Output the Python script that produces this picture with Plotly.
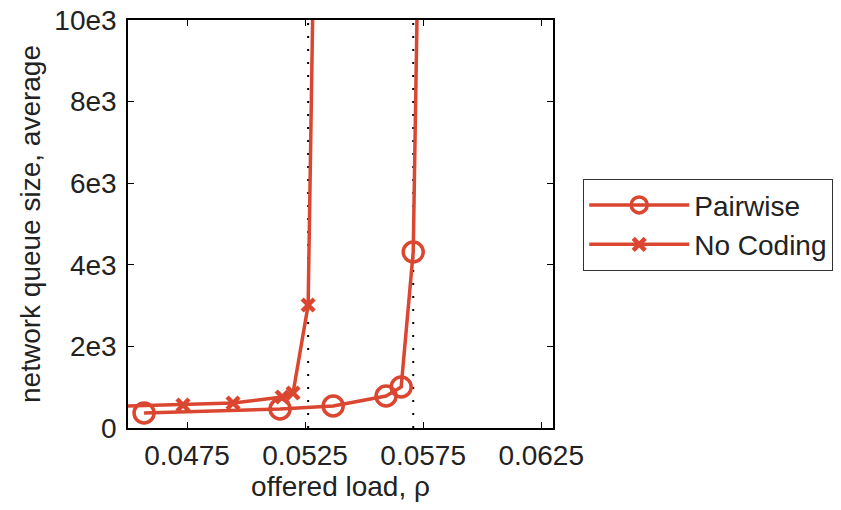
import plotly.graph_objects as go

# Data
pairwise_x = [0.04568, 0.05144, 0.05369, 0.05593, 0.05657, 0.05708, 0.05735]
pairwise_y = [368, 465, 540, 784, 1005, 4314, 14000]

nocoding_x = [0.0440, 0.04733, 0.04945, 0.05153, 0.05199, 0.05263, 0.05290]
nocoding_y = [520, 564, 613, 760, 858, 3015, 13000]

capacity_x = [0.05263, 0.05708]
y_range = [0, 10000]

x_ticks = [0.0475, 0.0525, 0.0575, 0.0625]
x_ticklabels = ["0.0475", "0.0525", "0.0575", "0.0625"]
y_ticks = [0, 2000, 4000, 6000, 8000, 10000]
y_ticklabels = ["0", "2e3", "4e3", "6e3", "8e3", "10e3"]

RED = "#DA4630"
FONT = "Liberation Sans, Arial, sans-serif"
TXT = "#222222"

fig = go.Figure()

for cx in capacity_x:
    fig.add_trace(go.Scatter(
        x=[cx, cx], y=y_range, mode="lines",
        line=dict(color="black", width=2, dash="2px,11px"),
        showlegend=False, hoverinfo="skip"))

fig.add_trace(go.Scatter(
    x=pairwise_x, y=pairwise_y, mode="lines+markers", name="Pairwise",
    line=dict(color=RED, width=3.5),
    marker=dict(symbol="circle-open", size=20, color=RED, line=dict(width=3.5, color=RED))))

fig.add_trace(go.Scatter(
    x=nocoding_x, y=nocoding_y, mode="lines+markers", name="No Coding",
    line=dict(color=RED, width=3.5),
    marker=dict(symbol="x-thin-open", size=12, color=RED, line=dict(width=4.5, color=RED))))

axis_common = dict(
    showline=True, linecolor="black", linewidth=1.5, mirror="ticks",
    ticks="inside", ticklen=6, tickcolor="black", tickwidth=1.2,
    showgrid=False, zeroline=False, automargin=False,
    tickfont=dict(family=FONT, size=28, color=TXT),
)

fig.update_xaxes(
    range=[0.045, 0.063], tickvals=x_ticks, ticktext=x_ticklabels,
    ticklabelstandoff=2,
    title=dict(text="offered load, ρ", font=dict(family=FONT, size=28, color=TXT), standoff=2),
    **axis_common)
fig.update_yaxes(
    range=y_range, tickvals=y_ticks, ticktext=y_ticklabels,
    ticklabelstandoff=4,
    title=dict(text="network queue size, average", font=dict(family=FONT, size=28, color=TXT), standoff=6),
    **axis_common)

fig.update_layout(
    width=841, height=510,
    margin=dict(l=128, r=288, t=20, b=82, autoexpand=False),
    paper_bgcolor="white", plot_bgcolor="white",
    legend=dict(
        xref="container", yref="container",
        x=583 / 841, y=1 - 225 / 510, xanchor="left", yanchor="middle",
        bordercolor="#333", borderwidth=1.2, bgcolor="white",
        font=dict(family=FONT, size=28, color=TXT),
        itemwidth=100, tracegroupgap=0),
)

fig.write_html("out.html")
